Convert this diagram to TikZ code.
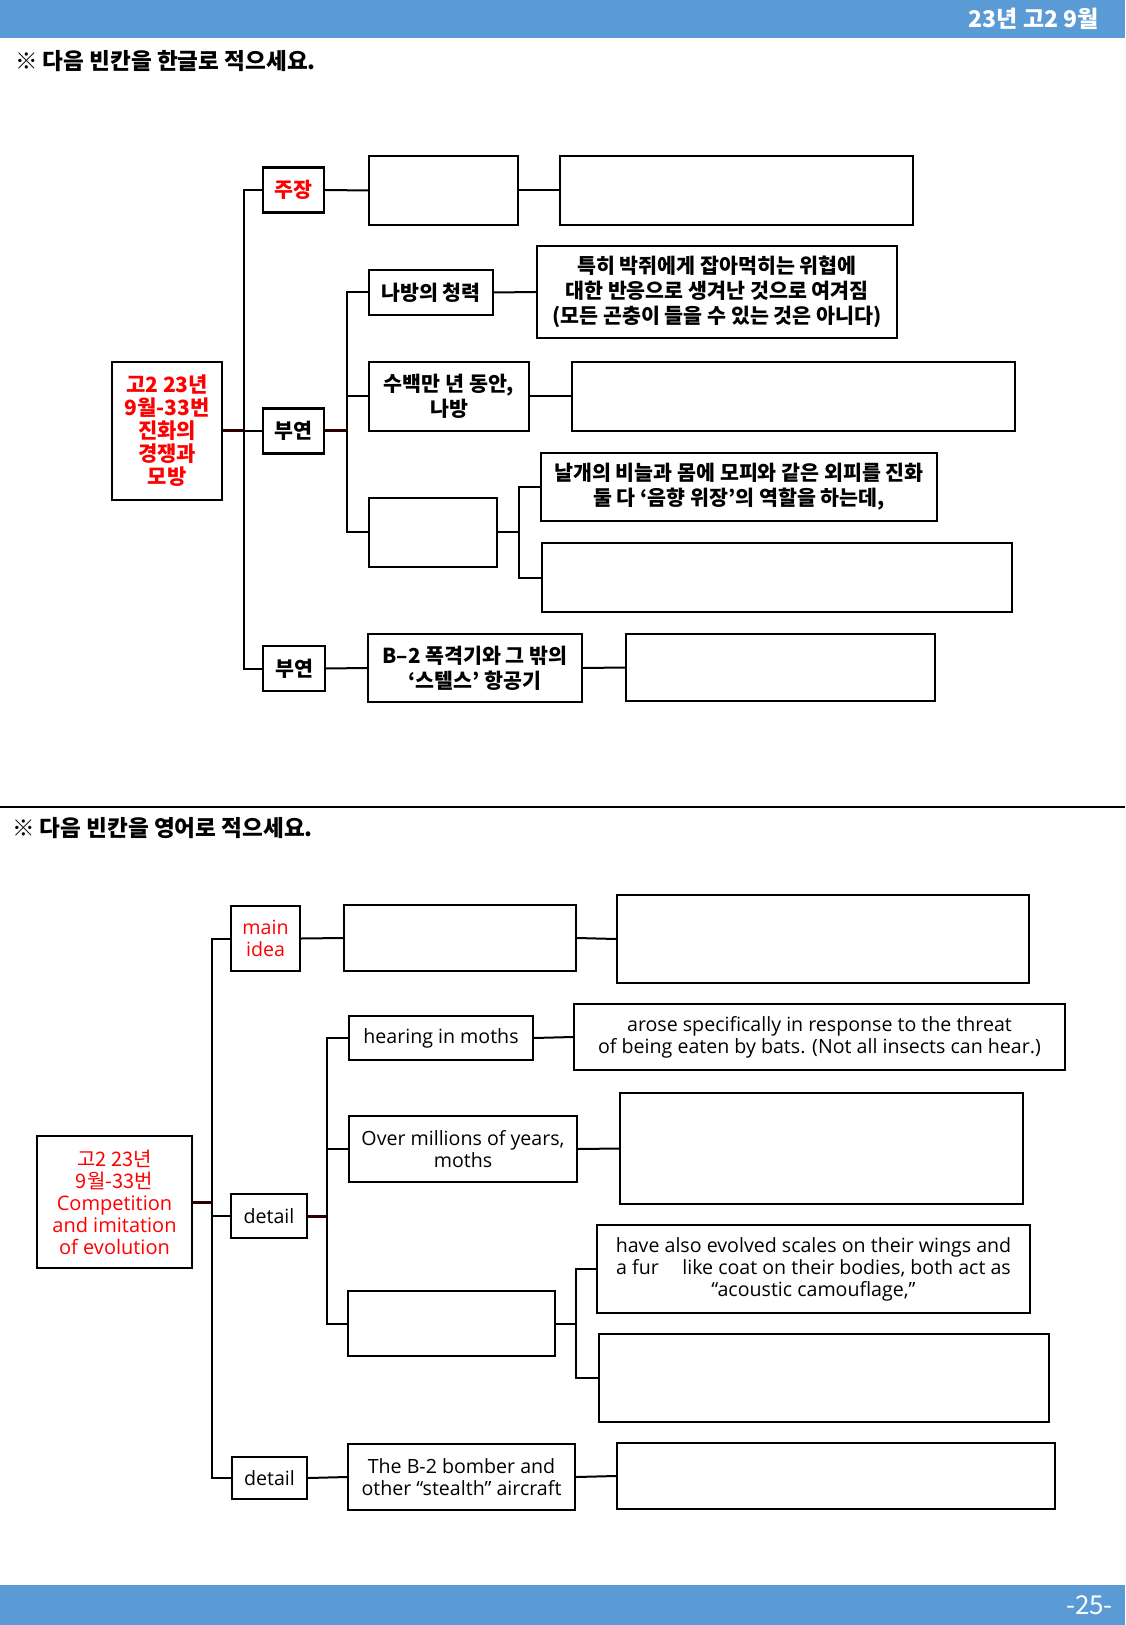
\documentclass[tikz,border=0pt]{standalone}
\usepackage{fontspec}
\setmainfont{Open Sans}
\newfontfamily\kor{Noto Sans CJK KR}
\usepackage{xcolor}

\definecolor{barblue}{RGB}{91,155,213}
\definecolor{rootline}{RGB}{45,0,0}

\tikzset{
  box/.style={draw, line width=1.2pt, align=center, inner sep=0pt},
  sz/.style 2 args={minimum width=#1*0.5pt, minimum height=#2*0.5pt},
  link/.style={line width=1pt},
  rootlink/.style={line width=1.5pt, draw=rootline},
  kotext/.style={font=\kor\bfseries\fontsize{10.3}{12.5}\selectfont},
  entext/.style={font=\fontsize{9.8}{11}\selectfont},
}

\begin{document}
\begin{tikzpicture}[x=0.5pt, y=-0.5pt]
  \useasboundingbox (0,0) rectangle (1125,1625);

  % Page header and footer
  \fill[barblue] (0,0) rectangle (1125,38);
  \node[anchor=east, text=white, font=\kor\bfseries\fontsize{11.5}{12}\selectfont] (head) at (1106,19) {23년 고2 9월};
  \fill[barblue] (0,1585) rectangle (1125,1625);
  \node[anchor=east, text=white, font=\kor\fontsize{13}{14}\selectfont] (page) at (1120,1605) {-25-};

  % Instructions and separator
  \node[anchor=west, font=\kor\bfseries\fontsize{11.3}{12}\selectfont] (askA) at (8,61) {※ 다음 빈칸을 한글로 적으세요.};
  \draw[line width=1.3pt] (0,807) -- (1125,807);
  \node[anchor=west, font=\kor\bfseries\fontsize{11.3}{12}\selectfont] (askB) at (5,828) {※ 다음 빈칸을 영어로 적으세요.};

  % ---- Korean map ----
  \node[box, sz={110}{138}, text=red, font=\kor\bfseries\fontsize{10.5}{11.5}\selectfont] (rootA) at (167,431)
    {고2 23년\\9월-33번\\진화의\\경쟁과\\모방};
  \node[box, kotext, sz={61}{45}, text=red] (claimA) at (293.5,190) {주장};
  \node[box, kotext, sz={61}{45}] (supA1) at (293.5,431) {부연};
  \node[box, kotext, sz={62}{45}] (supA2) at (294,668.5) {부연};
  \node[box, kotext, sz={124}{45}] (hearA) at (431,292.5) {나방의 청력};
  \node[box, kotext, sz={360}{92}] (threatA) at (717,292)
    {특히 박쥐에게 잡아먹히는 위협에\\대한 반응으로 생겨난 것으로 여겨짐\\(모든 곤충이 들을 수 있는 것은 아니다)};
  \node[box, kotext, sz={160}{69}] (yearsA) at (449,396.5) {수백만 년 동안,\\나방};
  \node[box, kotext, sz={396}{68}] (scaleA) at (739,487)
    {날개의 비늘과 몸에 모피와 같은 외피를 진화\\둘 다 ‘음향 위장’의 역할을 하는데,};
  \node[box, kotext, sz={214}{68}] (bomberA) at (475,668) {B–2 폭격기와 그 밖의\\‘스텔스’ 항공기};

  % blanks to fill in
  \foreach \n/\x/\y/\w/\h in {blankA1/443.5/190.5/149/69, blankA2/736.5/190.5/353/69,
      blankA3/793.5/396.5/443/69, blankA4/433/532.5/128/69,
      blankA5/777/577.5/470/69, blankA6/780.5/667.5/309/67}
    \node[box, sz={\w}{\h}] (\n) at (\x,\y) {};

  \coordinate (tA1) at (244,431);
  \coordinate (tA2) at (347,431);
  \coordinate (tA3) at (519,532.5);

  \draw[rootlink] (rootA.east) -- (tA1);
  \draw[link] (claimA.west) -| (tA1) |- (supA2.west);
  \draw[link] (tA1) -- (supA1.west);
  \draw[rootlink] (supA1.east) -- (tA2);
  \draw[link] (hearA.west) -| (tA2) |- (blankA4.west);
  \draw[link] (yearsA.west) -- (yearsA.west -| tA2);
  \draw[link] (blankA4.east) -- (tA3);
  \draw[link] (scaleA.west) -| (tA3) |- (blankA5.west);
  \draw[link] (claimA.east) -- (blankA1.west);
  \draw[link] (blankA1.east) -- (blankA2.west);
  \draw[link] (hearA.east) -- (threatA.west);
  \draw[link] (yearsA.east) -- (blankA3.west);
  \draw[link] (supA2.east) -- (bomberA.west);
  \draw[link] (bomberA.east) -- (blankA6.west);

  % ---- English map ----
  \node[box, sz={155}{132}, text=red, font=\fontsize{10}{11}\selectfont] (rootB) at (114.5,1202)
    {{\kor 고2 23년}\\{\kor 9월-33번}\\Competition\\and imitation\\of evolution};
  \node[box, entext, sz={69}{65}, text=red] (ideaB) at (265.5,938.5) {main\\idea};
  \node[box, entext, sz={76}{44}] (detB1) at (269,1216) {detail};
  \node[box, entext, sz={75}{42}] (detB2) at (269.5,1478) {detail};
  \node[box, entext, sz={184}{44}] (hearB) at (441,1038) {hearing in moths};
  \node[box, entext, sz={491}{66}] (threatB) at (819.5,1037)
    {arose specifically in response to the threat\\of being eaten by bats. (Not all insects can hear.)};
  \node[box, entext, sz={228}{66}] (yearsB) at (463,1149) {Over millions of years,\\moths};
  \node[box, entext, sz={433}{88}] (scaleB) at (813.5,1269)
    {have also evolved scales on their wings and\\a fur\hspace{1.2em}like coat on their bodies, both act as\\“acoustic camouflage,”};
  \node[box, entext, sz={227}{66}] (bomberB) at (461.5,1477) {The B-2 bomber and\\other “stealth” aircraft};

  % blanks to fill in
  \foreach \n/\x/\y/\w/\h in {blankB1/460/938/232/66, blankB2/823/939/412/88,
      blankB3/821.5/1148.5/403/111, blankB4/451.5/1323.5/207/65,
      blankB5/824/1378/450/88, blankB6/836/1476/438/66}
    \node[box, sz={\w}{\h}] (\n) at (\x,\y) {};

  \coordinate (tB1) at (212,1202);
  \coordinate (tB2) at (327,1216);
  \coordinate (tB3) at (576,1323.5);

  \draw[rootlink] (rootB.east) -- (tB1);
  \draw[link] (ideaB.west) -| (tB1) |- (detB2.west);
  \draw[link] (detB1.west) -- (detB1.west -| tB1);
  \draw[rootlink] (detB1.east) -- (tB2);
  \draw[link] (hearB.west) -| (tB2) |- (blankB4.west);
  \draw[link] (yearsB.west) -- (yearsB.west -| tB2);
  \draw[link] (blankB4.east) -- (tB3);
  \draw[link] (scaleB.west) -| (tB3) |- (blankB5.west);
  \draw[link] (ideaB.east) -- (blankB1.west);
  \draw[link] (blankB1.east) -- (blankB2.west);
  \draw[link] (hearB.east) -- (threatB.west);
  \draw[link] (yearsB.east) -- (blankB3.west);
  \draw[link] (detB2.east) -- (bomberB.west);
  \draw[link] (bomberB.east) -- (blankB6.west);
\end{tikzpicture}
\end{document}
